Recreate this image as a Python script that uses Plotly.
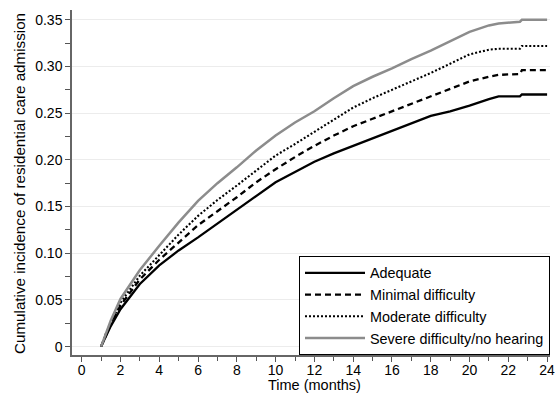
import plotly.graph_objects as go

months = [1, 1.25, 1.5, 2, 3, 4, 5, 6, 7, 8, 9, 10, 11, 12, 13, 14, 15, 16, 17, 18, 19, 20, 21, 21.5, 22.6, 22.7, 24]

adequate = [0, 0.012, 0.022, 0.040, 0.067, 0.087, 0.103, 0.117, 0.132, 0.147, 0.162, 0.176, 0.187, 0.198,
            0.207, 0.215, 0.223, 0.231, 0.239, 0.247, 0.252, 0.258, 0.265, 0.268, 0.268, 0.270, 0.270]
minimal = [0, 0.013, 0.024, 0.044, 0.072, 0.093, 0.112, 0.130, 0.145, 0.160, 0.176, 0.190, 0.203, 0.215,
           0.226, 0.236, 0.244, 0.252, 0.260, 0.268, 0.276, 0.284, 0.289, 0.291, 0.292, 0.296, 0.296]
moderate = [0, 0.014, 0.025, 0.047, 0.076, 0.098, 0.120, 0.140, 0.157, 0.1725, 0.189, 0.2046, 0.217, 0.230,
            0.243, 0.256, 0.266, 0.275, 0.284, 0.293, 0.303, 0.313, 0.318, 0.319, 0.319, 0.322, 0.322]
severe = [0, 0.015, 0.028, 0.051, 0.082, 0.108, 0.133, 0.156, 0.175, 0.192, 0.210, 0.226, 0.240, 0.252,
          0.266, 0.279, 0.289, 0.298, 0.308, 0.317, 0.327, 0.337, 0.344, 0.346, 0.348, 0.350, 0.350]

series_names = ["Adequate", "Minimal difficulty", "Moderate difficulty", "Severe difficulty/no hearing"]

y_tickvals = [0, 0.05, 0.10, 0.15, 0.20, 0.25, 0.30, 0.35]
y_ticktext = ["0", "0.05", "0.10", "0.15", "0.20", "0.25", "0.30", "0.35"]
x_tickvals = list(range(0, 25, 2))

y_title = "Cumulative incidence of residential care admission"
x_title = "Time (months)"

FONT = "Liberation Sans, Arial, sans-serif"
FS = 14

styles = [
    dict(color="black", width=2.3, dash="solid"),
    dict(color="black", width=2.3, dash="6px,4px"),
    dict(color="black", width=2.1, dash="2px,2px"),
    dict(color="#8c8c8c", width=2.5, dash="solid"),
]

fig = go.Figure()
for name, ys, st in zip(series_names, [adequate, minimal, moderate, severe], styles):
    fig.add_trace(go.Scatter(x=months, y=ys, mode="lines", name=name, line=st))

fig.update_layout(
    width=555, height=393,
    margin=dict(l=72, r=5, t=10, b=38, autoexpand=False),
    paper_bgcolor="white", plot_bgcolor="white",
    font=dict(family=FONT, size=FS, color="black"),
    showlegend=True,
    legend=dict(
        x=1, xanchor="right", y=0.0, yanchor="bottom",
        bgcolor="white", bordercolor="black", borderwidth=1,
        font=dict(family=FONT, size=14.4, color="black"),
        itemwidth=60, tracegroupgap=0,
    ),
    annotations=[
        dict(text=y_title, textangle=-90, xref="paper", yref="paper",
             x=(19 - 72) / 478, y=(355 - 184) / 345, xanchor="center", yanchor="middle",
             showarrow=False, font=dict(size=15.2)),
        dict(text=x_title, xref="paper", yref="paper",
             x=(314 - 72) / 478, y=-(385 - 355) / 345, xanchor="center", yanchor="middle",
             showarrow=False, font=dict(size=14.5)),
    ],
)

fig.update_xaxes(
    range=[-0.5, 24.15],
    tickmode="array", tickvals=x_tickvals,
    ticks="outside", ticklen=5, tickcolor="#555", tickwidth=1,
    minor=dict(dtick=1, tick0=0, ticks="outside", ticklen=4, tickcolor="#555", showgrid=False),
    showline=True, linecolor="#666", linewidth=1.5,
    showgrid=False, zeroline=False,
    ticklabeloverflow="allow", ticklabelstandoff=-4,
    tickfont=dict(size=FS),
)
fig.update_yaxes(
    range=[-0.009, 0.3605],
    tickmode="array", tickvals=y_tickvals, ticktext=y_ticktext,
    ticks="outside", ticklen=5, tickcolor="#555", tickwidth=1,
    minor=dict(dtick=0.025, tick0=0, ticks="outside", ticklen=5, tickcolor="#555", showgrid=False),
    showline=True, linecolor="#666", linewidth=1.5,
    showgrid=True, gridcolor="#ececec", gridwidth=1,
    zeroline=False,
    tickfont=dict(size=FS),
)

fig.write_html(
    "out.html",
    config={"displayModeBar": False},
    post_script="document.body.style.margin='0';document.body.style.overflow='hidden';",
)
